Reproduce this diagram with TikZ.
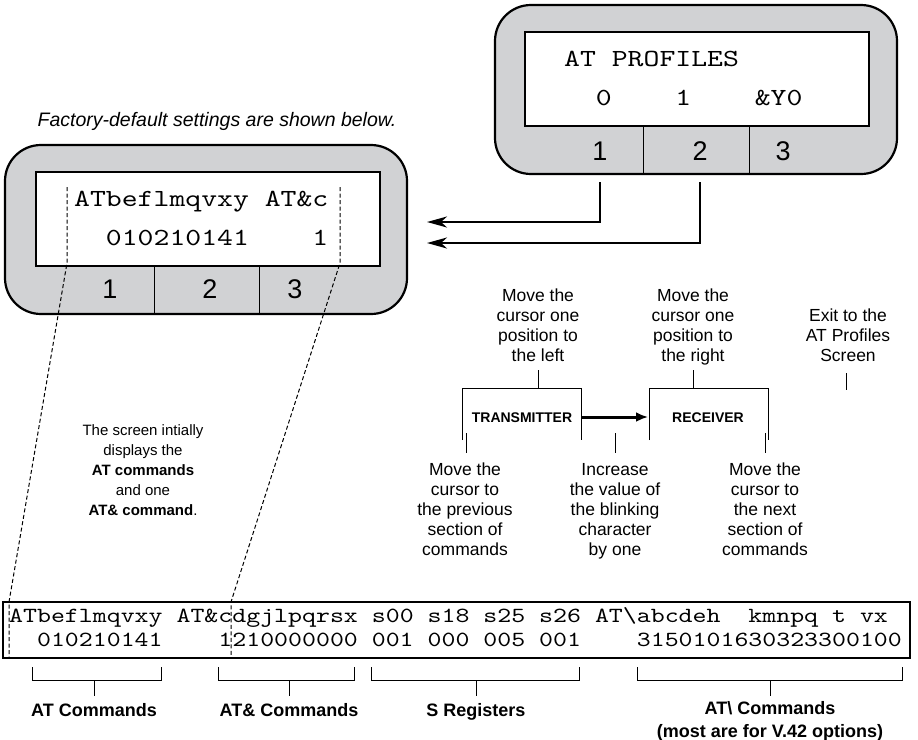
\documentclass[tikz,border=0pt]{standalone}
\usepackage{fontspec}
\setmainfont{Liberation Sans}
\newfontfamily\monofont{lmmono10-regular.otf}[FakeStretch=1.23]
\usetikzlibrary{arrows.meta}
\definecolor{screengray}{RGB}{209,210,212}
\newcommand\monosp{\hphantom{0}}
\begin{document}
\begin{tikzpicture}[x=1pt,y=-1pt,
  screen/.style={draw, line width=2.2pt, fill=screengray, rounded corners=36pt},
  lcd/.style={draw, line width=2pt, fill=white},
  divider/.style={line width=1pt},
  keynum/.style={font=\fontsize{27}{30}\selectfont, anchor=base, inner sep=0pt},
  lcdtext/.style={font=\monofont\fontsize{24.6}{28}\selectfont, anchor=base west, inner sep=0pt},
  bartext/.style={font=\monofont\fontsize{21.6}{24}\selectfont, anchor=base west, inner sep=0pt},
  txtlabel/.style={font=\fontsize{17.5}{20}\selectfont, align=center, anchor=base, inner sep=0pt},
  txtnote/.style={font=\fontsize{15}{20}\selectfont, align=center, anchor=base, inner sep=0pt},
  txtbold/.style={font=\bfseries\fontsize{18}{23}\selectfont, align=center, anchor=base, inner sep=0pt},
  txtbox/.style={font=\bfseries\fontsize{14}{16}\selectfont, anchor=base, inner sep=0pt},
  bracket/.style={line width=1pt},
  guide/.style={line width=1pt, dash pattern=on 4pt off 2.5pt},
  feed/.style={line width=2pt, -{Stealth[length=20pt,width=11pt,inset=6pt]}},
  flow/.style={line width=3pt, -{Latex[length=12pt,width=10pt]}},
]
\useasboundingbox[fill=white] (0,0) rectangle (918,739);

% ---------- AT PROFILES screen ----------
\draw[screen] (495,5) rectangle (897,174);
\draw[lcd] (525,32) rectangle (869,126);
\draw[divider] (643,126) -- (643,174);
\draw[divider] (749,126) -- (749,174);
\node[lcdtext] (r1) at (564,66) {AT\monosp PROFILES};
\node[lcdtext] (r2) at (564,105) {\monosp\monosp0\monosp\monosp\monosp\monosp1\monosp\monosp\monosp\monosp\&Y0};
\node[keynum] (rk1) at (600,160) {1};
\node[keynum] (rk2) at (700,160) {2};
\node[keynum] (rk3) at (783,160) {3};

% ---------- settings screen ----------
\draw[screen] (5,145) rectangle (407,314);
\draw[lcd] (36,172) rectangle (380,266);
\draw[divider] (154,266) -- (154,314);
\draw[divider] (259,266) -- (259,314);
\node[lcdtext] (l1) at (74,206) {ATbeflmqvxy\monosp AT\&c};
\node[lcdtext] (l2) at (74,245) {\monosp\monosp010210141\monosp\monosp\monosp\monosp1};
\node[keynum] (lk1) at (110,298) {1};
\node[keynum] (lk2) at (210,298) {2};
\node[keynum] (lk3) at (295,298) {3};

\node[font=\itshape\fontsize{19.5}{22}\selectfont, anchor=base, inner sep=0pt] (fd) at (217,126) {Factory-default settings are shown below.};

% ---------- arrows from profile keys ----------
\coordinate (k1b) at (600,182);
\coordinate (k2b) at (700,182);
\coordinate (k1t) at (427,222);
\coordinate (k2t) at (427,243);
\draw[feed] (k1b) |- (k1t);
\draw[feed] (k2b) |- (k2t);

% ---------- full settings bar ----------
\draw[line width=2.2pt] (3,602) rectangle (910,658);
\node[bartext] (b1) at (9,622) {ATbeflmqvxy\monosp AT\&cdgjlpqrsx\monosp s00\monosp s18\monosp s25\monosp s26\monosp AT\textbackslash abcdeh\monosp\monosp kmnpq\monosp t\monosp vx};
\node[bartext] (b2) at (9,646) {\monosp\monosp010210141\monosp\monosp\monosp\monosp1210000000\monosp001\monosp000\monosp005\monosp001\monosp\monosp\monosp\monosp3150101630323300100};

% ---------- dashed guides ----------
\coordinate (ga1) at (67,187); \coordinate (ga2) at (67,263);
\coordinate (ga3) at (9,602);  \coordinate (ga4) at (9,658);
\coordinate (gb1) at (340,187); \coordinate (gb2) at (340,263);
\coordinate (gb3) at (231,602); \coordinate (gb4) at (231,658);
\draw[guide] (ga1) -- (ga2) -- (ga3) -- (ga4);
\draw[guide] (gb1) -- (gb2) -- (gb3) -- (gb4);

\node[txtnote] (note) at (143,515) {The screen intially\\displays the\\\textbf{AT commands}\\and one\\\textbf{AT\& command}.};

% ---------- key functions ----------
\node[txtbox] (tx) at (522,422) {TRANSMITTER};
\node[txtbox] (rx) at (708,422) {RECEIVER};
\draw[bracket] (462,440) -- (462,388) -- (581,388) -- (581,440);
\draw[bracket] (649,440) -- (649,388) -- (768,388) -- (768,440);
\draw[flow] (582,417) -- (648,417);
\draw[bracket] (538,370) -- (538,388);
\draw[bracket] (693,370) -- (693,388);
\draw[bracket] (846,373) -- (846,390);
\draw[bracket] (466,433) -- (466,453);
\draw[bracket] (615,433) -- (615,453);
\draw[bracket] (765,433) -- (765,453);

\node[txtlabel] (ul) at (538,361) {Move the\\cursor one\\position to\\the left};
\node[txtlabel] (ur) at (693,361) {Move the\\cursor one\\position to\\the right};
\node[txtlabel] (ex) at (848,361) {Exit to the\\AT Profiles\\Screen};
\node[txtlabel] (lp) at (465,555) {Move the\\cursor to\\the previous\\section of\\commands};
\node[txtlabel] (li) at (615,555) {Increase\\the value of\\the blinking\\character\\by one};
\node[txtlabel] (ln) at (765,555) {Move the\\cursor to\\the next\\section of\\commands};

% ---------- bottom brackets ----------
\draw[bracket] (32,667) -- (32,680) -- (161,680) -- (161,667);
\draw[bracket] (94,680) -- (94,696);
\draw[bracket] (218,667) -- (218,680) -- (354,680) -- (354,667);
\draw[bracket] (289,680) -- (289,696);
\draw[bracket] (371,667) -- (371,680) -- (579,680) -- (579,667);
\draw[bracket] (476,680) -- (476,696);
\draw[bracket] (637,667) -- (637,680) -- (902,680) -- (902,667);
\draw[bracket] (770,680) -- (770,696);
\node[txtbold] (c1) at (94,716) {AT Commands};
\node[txtbold] (c2) at (289,716) {AT\& Commands};
\node[txtbold] (c3) at (476,716) {S Registers};
\node[txtbold] (c4) at (770,737) {AT\textbackslash\ Commands\\(most are for V.42 options)};
\end{tikzpicture}
\end{document}
